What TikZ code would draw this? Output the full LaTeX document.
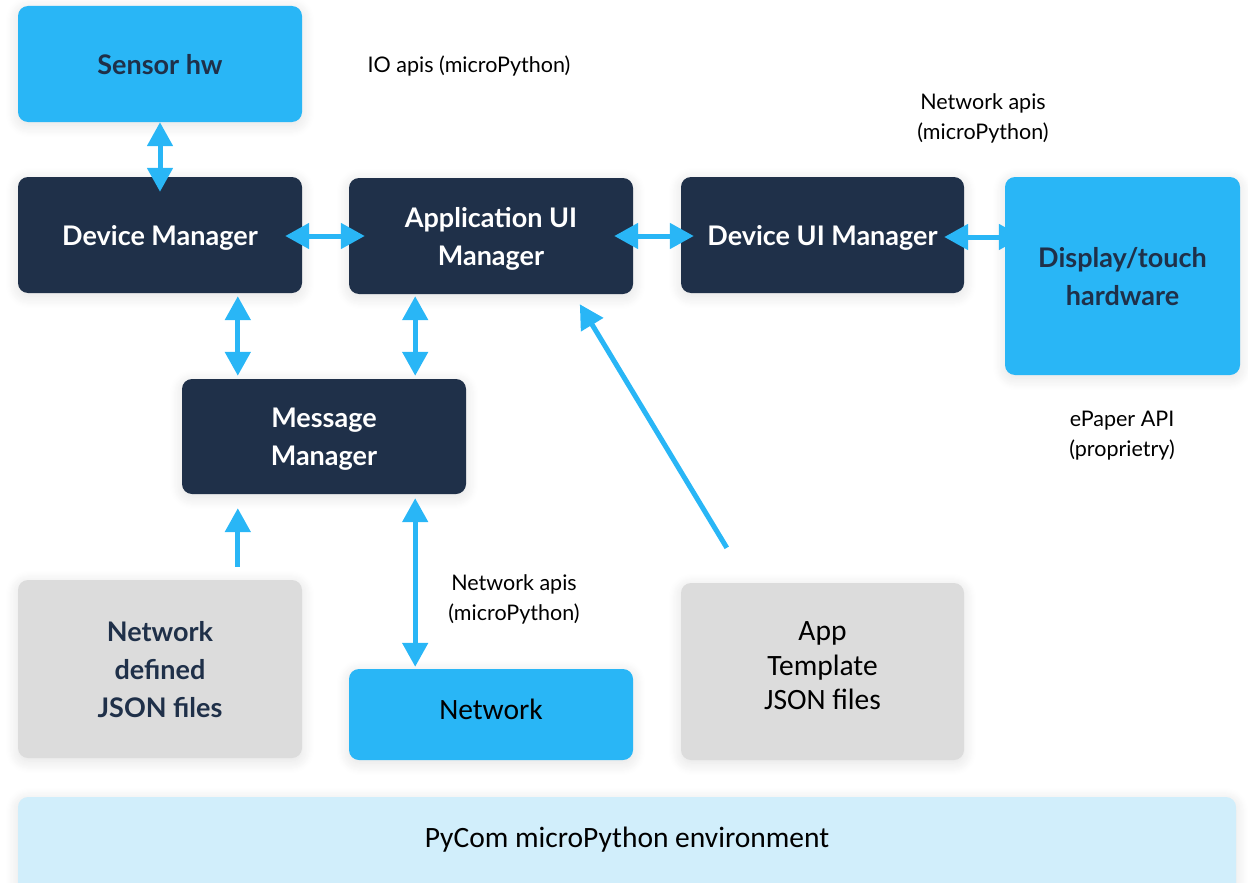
\documentclass[tikz,border=0pt]{standalone}
\usepackage{fontspec}
\setmainfont{Lato}
\newfontfamily\calfont{Carlito}
\usetikzlibrary{arrows.meta,calc,shadows.blur}

\definecolor{skyblue}{HTML}{29B6F6}
\definecolor{navy}{HTML}{1F3049}
\definecolor{panelgray}{HTML}{DCDCDC}
\definecolor{envblue}{HTML}{D1EEFB}

\tikzset{
  box/.style={rectangle, rounded corners=10pt, inner sep=0pt, align=center,
    minimum width=284pt, minimum height=116pt,
    blur shadow={shadow xshift=0pt, shadow yshift=-3pt, shadow blur radius=12pt,
      shadow opacity=12, shadow blur steps=12}},
  boldtext/.style={text depth=0pt, font=\bfseries\fontsize{27}{38}\selectfont},
  corebox/.style={box, boldtext, fill=navy, text=white},
  hwbox/.style={box, boldtext, fill=skyblue, text=navy},
  filebox/.style={box, boldtext, fill=panelgray, text=navy},
  plainbox/.style={box, text=black, text depth=11pt,
    font=\calfont\fontsize{29.5}{34.5}\selectfont},
  apilabel/.style={align=center, inner sep=0pt, text=black,
    font=\fontsize{21.5}{30}\selectfont},
  link/.style={draw=skyblue, line width=5pt,
    {Triangle[width=25pt,length=24pt]}-{Triangle[width=25pt,length=24pt]}},
  uplink/.style={draw=skyblue, line width=5pt, -{Triangle[width=25pt,length=24pt]}},
}

\begin{document}
\begin{tikzpicture}[x=1pt, y=-1pt]
\useasboundingbox (0,0) rectangle (1248,883);

% environment bar (runs off the lower edge)
\node[box, fill=envblue, text=black, minimum width=1218pt, minimum height=110pt,
  font=\calfont\fontsize{29.5}{34}\selectfont] (env) at (627,852)
  {\raisebox{29pt}{PyCom microPython environment}};

% component boxes
\node[hwbox] (sensor) at (160,64) {Sensor hw};
\node[corebox] (dm) at (160,235) {Device Manager};
\node[corebox] (appui) at (491,236) {Application UI\\Manager};
\node[corebox, minimum width=283pt] (devui) at (822.5,235) {Device UI Manager};
\node[hwbox, minimum width=235pt, minimum height=198pt] (disp) at (1122.5,276)
  {Display/touch\\hardware};
\node[corebox, minimum height=115pt] (msg) at (324,436.5) {Message\\Manager};
\node[filebox, minimum height=178pt] (netjson) at (160,669)
  {Network\\defined\\JSON files};
\node[plainbox, fill=skyblue, minimum height=91pt] (net) at (491,714.5) {Network};
\node[plainbox, fill=panelgray, minimum width=283pt, minimum height=177pt]
  (apptpl) at (822.5,671.5) {App\\Template\\JSON files};

% API labels
\node[apilabel] (ioapi) at (469,66) {IO apis (microPython)};
\node[apilabel] (netapiA) at (983,118) {Network apis\\(microPython)};
\node[apilabel] (epaper) at (1122,436) {ePaper API\\(proprietry)};
\node[apilabel] (netapiB) at (514,599) {Network apis\\(microPython)};

% columns of the vertical links around the message manager
\coordinate (colA) at ($(msg.north west)+(56,0)$);
\coordinate (colB) at ($(msg.north east)+(-51,0)$);

% connectors
\draw[link] (sensor.south) -- ($(dm.north)+(0,15)$);
\draw[link] ($(dm.east)+(-17,1)$) -- ($(appui.west)+(16,0)$);
\draw[link] ($(appui.east)+(-19,0)$) -- ($(devui.west)+(13,1)$);
\draw[link] ($(devui.east)+(-20,2)$) -- ($(disp.west |- devui.east)+(18,2)$);
\draw[link] ($(colA |- dm.south)+(0,3)$) -- ($(colA)+(0,-3)$);
\draw[link] ($(colB |- appui.south)+(0,2)$) -- ($(colB)+(0,-3)$);
\draw[uplink] ($(colA |- netjson.north)+(0,-13)$) -- ($(colA |- msg.south)+(0,14)$);
\draw[link] ($(colB |- msg.south)+(0,4)$) -- ($(colB |- net.north)+(0,-2)$);
\draw[uplink] ($(apptpl.north west)+(46,-35)$) -- ($(appui.south west)+(231,10)$);
\end{tikzpicture}
\end{document}
